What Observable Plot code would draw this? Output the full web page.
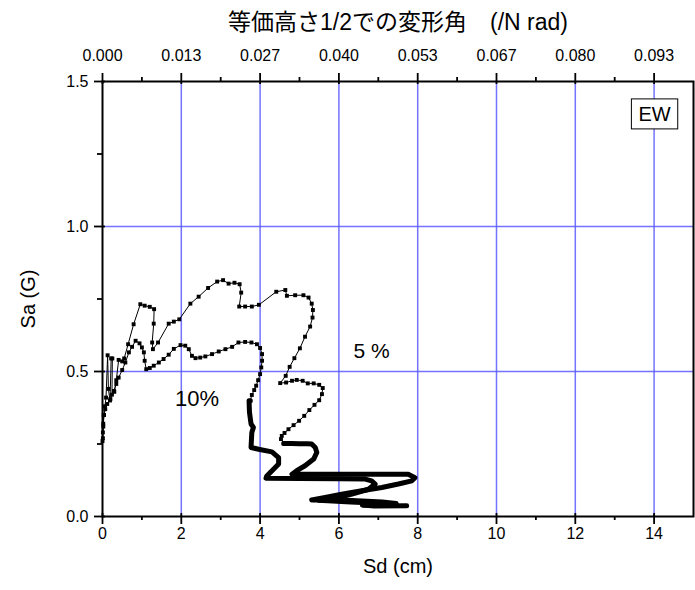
<!DOCTYPE html>
<html><head><meta charset="utf-8">
<script src="https://cdn.jsdelivr.net/npm/d3@7"></script>
<script src="https://cdn.jsdelivr.net/npm/@observablehq/plot@0.6"></script>
<style>html,body{margin:0;padding:0;background:#fff}#chart{width:695px;height:590px}</style>
</head><body><div id="chart"></div>
<script>
// 5% damping curve (sparse part with markers)
const sd5 = [0.01,0.02,0.03,0.06,0.09,0.13,0.15,0.19,0.22,0.25,0.24,0.30,0.35,0.41,0.50,0.55,0.65,0.79,0.96,1.07,1.20,1.31,1.30,1.26,1.28,1.41,1.68,1.81,1.95,2.23,2.44,2.68,2.91,3.06,3.20,3.35,3.48,3.52,3.47,3.62,3.79,3.97,4.41,4.64,4.68,4.89,5.10,5.23,5.31,5.34,5.33,5.27,5.14,5.01,4.87,4.75,4.65,4.51,4.66,4.81,4.93,5.08,5.21,5.36,5.50,5.59,5.57,5.50,5.38,5.25,5.12,4.99,4.85,4.72,4.62,4.55,4.53,4.60];
const sa5 = [0.27,0.31,0.35,0.38,0.41,0.556,0.44,0.40,0.545,0.545,0.42,0.43,0.47,0.54,0.535,0.545,0.594,0.663,0.732,0.727,0.723,0.715,0.665,0.600,0.577,0.600,0.665,0.672,0.680,0.734,0.758,0.788,0.810,0.815,0.803,0.806,0.801,0.772,0.724,0.724,0.724,0.730,0.775,0.781,0.761,0.763,0.763,0.755,0.734,0.712,0.686,0.655,0.620,0.580,0.546,0.516,0.485,0.460,0.462,0.468,0.471,0.468,0.459,0.459,0.454,0.443,0.422,0.401,0.385,0.367,0.347,0.330,0.315,0.301,0.288,0.278,0.267,0.252];
// 5% damping curve (dense long-period tail)
const sd5Tail = [4.60,4.80,5.00,5.20,5.31,5.40,5.44,5.36,5.14,4.93,4.81,5.30,6.00,6.80,7.76,7.93,7.85,7.51,7.09,6.58,6.07,5.65,5.31,6.20,7.10,7.45,7.20,6.60,6.90,7.72];
const sa5Tail = [0.252,0.252,0.251,0.251,0.250,0.238,0.221,0.198,0.175,0.158,0.146,0.146,0.146,0.146,0.146,0.134,0.123,0.112,0.100,0.089,0.077,0.066,0.057,0.056,0.050,0.045,0.040,0.040,0.036,0.037];
// 10% damping curve (sparse part with markers)
const sd10 = [0.00,0.01,0.02,0.04,0.07,0.12,0.20,0.29,0.35,0.41,0.50,0.58,0.67,0.75,0.84,0.94,1.00,1.05,1.07,1.11,1.20,1.30,1.43,1.55,1.68,1.81,1.98,2.10,2.19,2.27,2.36,2.48,2.61,2.78,2.95,3.12,3.29,3.45,3.62,3.78,3.92,4.00,4.05,4.05,4.03,4.00,3.95,3.90,3.85,3.79,3.75];
const sa10 = [0.26,0.29,0.32,0.35,0.37,0.388,0.405,0.433,0.457,0.479,0.505,0.531,0.566,0.585,0.606,0.597,0.583,0.566,0.537,0.508,0.512,0.520,0.531,0.543,0.558,0.578,0.591,0.589,0.577,0.554,0.546,0.548,0.552,0.560,0.569,0.577,0.585,0.600,0.602,0.600,0.594,0.581,0.560,0.537,0.514,0.491,0.470,0.451,0.436,0.419,0.399];
// 10% damping curve (dense long-period tail)
const sd10Tail = [3.75,3.72,3.73,3.77,3.83,3.79,3.77,3.96,4.30,4.47,4.47,4.34,4.17,4.15,5.00,6.00,6.67,6.83,6.92,6.75,6.33,5.90,5.48,6.30,7.00,7.35,7.00,6.60];
const sa10Tail = [0.399,0.399,0.360,0.319,0.307,0.290,0.238,0.232,0.223,0.203,0.181,0.163,0.140,0.132,0.131,0.130,0.129,0.123,0.112,0.094,0.077,0.063,0.056,0.050,0.046,0.043,0.038,0.040];

const xMajor = [0,2,4,6,8,10,12,14];
const xMinor = [1,3,5,7,9,11,13];
const topLabels = ["0.000","0.013","0.027","0.040","0.053","0.067","0.080","0.093"];
const yMajor = [0,0.5,1.0,1.5];
const yMinor = [0.25,0.75,1.25];
const xGrid = [2,4,6,8,10,12,14];
const yGrid = [0.5,1.0];

const toRows = (xs, ys) => xs.map((x, i) => ({sd: x, sa: ys[i]}));
const c5 = toRows(sd5, sa5), c5t = toRows(sd5Tail, sa5Tail);
const c10 = toRows(sd10, sa10), c10t = toRows(sd10Tail, sa10Tail);

const FONT = "'Liberation Sans', Arial, 'Noto Sans CJK JP', sans-serif";
const gridStyle = {stroke: "#5a5aff", strokeOpacity: 0.85, strokeWidth: 1.5};
const tickStyle = {stroke: "#000", strokeWidth: 1.8};

const chart = Plot.plot({
  width: 695, height: 590,
  marginLeft: 102, marginRight: 2, marginTop: 81, marginBottom: 74,
  style: {fontFamily: FONT, fontSize: "16px", background: "#fff", color: "#000"},
  x: {domain: [0, 15]},
  y: {domain: [0, 1.5]},
  marks: [
    Plot.ruleX(xGrid, {x: d => d, ...gridStyle}),
    Plot.ruleY(yGrid, {y: d => d, ...gridStyle}),
    Plot.line(c10, {x: "sd", y: "sa", stroke: "#000", strokeWidth: 1}),
    Plot.dot(c10, {x: "sd", y: "sa", symbol: "square", r: 2.2, fill: "#000", stroke: null}),
    Plot.line(c10t, {x: "sd", y: "sa", stroke: "#000", strokeWidth: 5, strokeLinejoin: "round"}),
    Plot.line(c5, {x: "sd", y: "sa", stroke: "#000", strokeWidth: 1}),
    Plot.dot(c5, {x: "sd", y: "sa", symbol: "square", r: 2.2, fill: "#000", stroke: null}),
    Plot.line(c5t, {x: "sd", y: "sa", stroke: "#000", strokeWidth: 5, strokeLinejoin: "round"}),
    Plot.frame({stroke: "#000", strokeWidth: 2}),
    // bottom ticks
    Plot.tickX(xMajor, {x: d => d, insetTop: 432, insetBottom: -8, ...tickStyle}),
    Plot.tickX(xMinor, {x: d => d, insetTop: 435, insetBottom: -4, ...tickStyle}),
    // top ticks
    Plot.tickX(xMajor, {x: d => d, insetTop: -8, insetBottom: 432, ...tickStyle}),
    Plot.tickX(xMinor, {x: d => d, insetTop: -4, insetBottom: 435, ...tickStyle}),
    // left ticks
    Plot.tickY(yMajor, {y: d => d, insetLeft: -8, insetRight: 588, ...tickStyle}),
    Plot.tickY(yMinor, {y: d => d, insetLeft: -5, insetRight: 591, ...tickStyle}),
    Plot.axisX(xMajor, {anchor: "bottom", tickSize: 0, tickPadding: 11, label: null, fontSize: 16}),
    Plot.axisX(xMajor, {anchor: "top", tickSize: 0, tickPadding: 21, label: null, fontSize: 16,
      tickFormat: d => topLabels[xMajor.indexOf(d)]}),
    Plot.axisY(yMajor, {anchor: "left", tickSize: 0, tickPadding: 14, label: null, fontSize: 16,
      tickFormat: d3.format(".1f")}),
    Plot.text(["Sd (cm)"], {text: d => d, frameAnchor: "bottom", textAnchor: "middle", lineAnchor: "middle", dy: 50, fontSize: 20}),
    Plot.text(["Sa (G)"], {text: d => d, frameAnchor: "left", textAnchor: "middle", lineAnchor: "middle", dx: -74, rotate: -90, fontSize: 20}),
    Plot.text(["等価高さ1/2での変形角\u3000(/N rad)"], {text: d => d, frameAnchor: "top", textAnchor: "middle", lineAnchor: "middle", dy: -59, fontSize: 23}),
    Plot.text(["10%"], {text: d => d, x: 2.4, y: 0.382, lineAnchor: "bottom", fontSize: 22}),
    Plot.text(["5 %"], {text: d => d, x: 6.83, y: 0.548, lineAnchor: "bottom", fontSize: 21,
      fontFamily: "'Liberation Sans Narrow', 'Liberation Sans', Arial, sans-serif"}),
    Plot.text(["EW"], {text: d => d, frameAnchor: "top-right", textAnchor: "middle", lineAnchor: "middle", dx: -39, dy: 33, fontSize: 20})
  ]
});
document.getElementById("chart").append(chart);

// white box behind the "EW" label
const ew = [...chart.querySelectorAll("text")].find(t => t.textContent === "EW");
if (ew) {
  const sr = chart.getBoundingClientRect();
  const br = ew.getBoundingClientRect();
  const rect = document.createElementNS("http://www.w3.org/2000/svg", "rect");
  const padX = 7, padY = 5;
  rect.setAttribute("x", br.left - sr.left - padX);
  rect.setAttribute("y", br.top - sr.top - padY + 1);
  rect.setAttribute("width", br.width + 2 * padX);
  rect.setAttribute("height", br.height + 2 * padY - 2);
  rect.setAttribute("fill", "#fff");
  rect.setAttribute("stroke", "#000");
  rect.setAttribute("stroke-width", "1");
  const g = ew.parentNode;
  g.parentNode.insertBefore(rect, g);
}
</script>
</body></html>
